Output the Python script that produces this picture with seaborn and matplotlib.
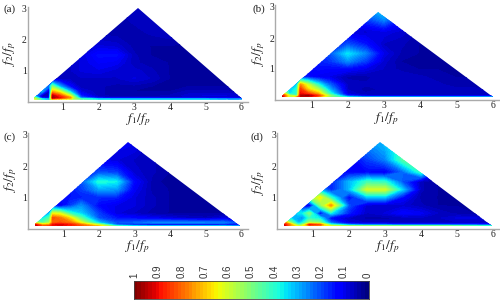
import numpy as np
import seaborn as sns
import matplotlib
matplotlib.use("Agg")
import matplotlib.pyplot as plt
from matplotlib.patches import Polygon

F1 = [0.2, 0.4, 0.6, 0.7, 0.9, 1.2, 1.5, 2.0, 2.5, 3.0, 3.5, 4.0, 4.5, 5.0, 5.5, 6.0]
F2 = [0.09, 0.14, 0.2, 0.35, 0.5, 0.75, 1.0, 1.25, 1.5, 1.8, 2.2, 2.6, 3.0]

VALS_A = [
    [.62, .40, .30, .72, .68, .62, .45, .36, .34, .34, .34, .34, .34, .34, .30, .28],
    [.50, .08, .08, .97, .90, .75, .22, .08, .06, .06, .06, .06, .06, .06, .06, .05],
    [.30, .06, .05, .95, .85, .62, .15, .05, .04, .04, .04, .05, .07, .08, .08, .07],
    [.20, .30, .05, .70, .60, .30, .08, .05, .04, .03, .03, .03, .05, .05, .05, .04],
    [.08, .30, .22, .50, .30, .12, .05, .05, .04, .04, .03, .03, .03, .03, .03, .03],
    [.05, .07, .06, .06, .05, .05, .06, .06, .06, .08, .06, .03, .03, .03, .03, .03],
    [.05, .05, .05, .05, .05, .06, .08, .09, .07, .07, .05, .03, .03, .03, .03, .03],
    [.05, .05, .05, .05, .06, .06, .08, .11, .10, .05, .04, .03, .03, .03, .03, .03],
    [.05, .05, .05, .05, .06, .06, .08, .13, .13, .05, .03, .03, .03, .03, .03, .03],
    [.05, .05, .05, .05, .05, .05, .06, .08, .07, .04, .03, .03, .03, .03, .03, .03],
    [.04, .04, .04, .04, .04, .04, .04, .04, .04, .04, .05, .06, .04, .03, .03, .03],
    [.04, .04, .04, .04, .04, .04, .04, .04, .04, .05, .06, .04, .03, .03, .03, .03],
    [.04, .04, .04, .04, .04, .04, .04, .04, .04, .06, .05, .03, .03, .03, .03, .03],
]
VALS_B = [
    [.95, .55, .75, .90, .85, .68, .52, .36, .30, .30, .30, .30, .30, .30, .30, .30],
    [.90, .60, .45, .95, .98, .85, .55, .15, .07, .06, .06, .06, .06, .06, .06, .06],
    [.80, .35, .40, .90, .85, .72, .42, .08, .05, .05, .06, .06, .06, .06, .06, .06],
    [.50, .30, .40, .85, .68, .55, .30, .06, .04, .05, .06, .06, .05, .05, .05, .04],
    [.20, .25, .32, .75, .60, .38, .22, .06, .05, .06, .06, .05, .05, .04, .04, .03],
    [.10, .12, .11, .15, .13, .10, .09, .04, .04, .06, .06, .05, .04, .03, .03, .03],
    [.10, .10, .10, .11, .12, .13, .12, .12, .09, .06, .04, .03, .03, .03, .02, .02],
    [.10, .10, .10, .11, .13, .15, .17, .26, .18, .07, .03, .03, .02, .02, .02, .02],
    [.10, .10, .10, .11, .13, .16, .20, .35, .25, .09, .04, .03, .02, .02, .02, .02],
    [.10, .10, .10, .11, .11, .11, .12, .20, .14, .06, .05, .03, .02, .02, .02, .02],
    [.10, .10, .10, .09, .09, .09, .08, .08, .07, .09, .07, .04, .03, .02, .02, .02],
    [.12, .12, .12, .12, .12, .12, .12, .12, .18, .26, .14, .06, .03, .02, .02, .02],
    [.12, .12, .12, .12, .12, .12, .12, .12, .28, .36, .20, .06, .03, .02, .02, .02],
]
VALS_C = [
    [.95, .82, .85, .90, .90, .88, .82, .70, .42, .36, .33, .33, .33, .33, .33, .28],
    [.90, .72, .72, .90, .92, .88, .78, .55, .20, .12, .08, .08, .08, .08, .10, .10],
    [.60, .45, .55, .80, .82, .78, .62, .32, .20, .22, .25, .26, .26, .25, .25, .18],
    [.30, .35, .45, .82, .78, .66, .45, .20, .14, .12, .10, .08, .06, .05, .08, .06],
    [.15, .22, .30, .62, .60, .40, .33, .18, .08, .06, .04, .03, .03, .03, .03, .03],
    [.10, .10, .12, .15, .08, .18, .26, .12, .09, .08, .05, .03, .02, .02, .02, .02],
    [.10, .10, .10, .12, .13, .14, .15, .16, .15, .08, .05, .03, .02, .02, .02, .02],
    [.10, .10, .10, .12, .13, .14, .18, .28, .27, .10, .04, .03, .02, .02, .02, .02],
    [.10, .10, .10, .12, .13, .15, .20, .39, .36, .12, .04, .02, .02, .02, .02, .02],
    [.10, .10, .10, .10, .11, .12, .14, .20, .18, .07, .05, .03, .02, .02, .02, .02],
    [.10, .10, .10, .10, .10, .10, .10, .09, .08, .06, .05, .03, .02, .02, .02, .02],
    [.12, .12, .12, .12, .12, .12, .12, .11, .10, .09, .05, .03, .02, .02, .02, .02],
    [.12, .12, .12, .12, .12, .12, .12, .11, .11, .10, .05, .03, .02, .02, .02, .02],
]
VALS_D = [
    [.95, .72, .60, .62, .72, .70, .62, .56, .54, .54, .52, .52, .52, .50, .46, .42],
    [.90, .72, .40, .50, .88, .82, .40, .22, .18, .18, .16, .16, .16, .16, .16, .14],
    [.80, .50, .30, .35, .55, .50, .22, .08, .06, .06, .06, .06, .06, .06, .06, .06],
    [.35, .32, .28, .25, .40, .35, .12, .06, .04, .04, .05, .06, .06, .08, .08, .06],
    [.15, .25, .35, .35, .50, .10, .35, .15, .06, .08, .12, .10, .06, .04, .03, .03],
    [.10, .25, .30, .10, .07, .50, .75, .20, .07, .06, .07, .05, .03, .03, .03, .03],
    [.18, .25, .30, .35, .50, .65, .40, .12, .30, .30, .12, .04, .03, .03, .03, .03],
    [.20, .22, .25, .30, .40, .30, .15, .30, .60, .60, .32, .05, .03, .03, .03, .03],
    [.20, .22, .25, .28, .28, .20, .15, .30, .42, .40, .20, .05, .03, .03, .03, .03],
    [.20, .20, .20, .20, .20, .15, .14, .12, .12, .10, .22, .40, .10, .03, .03, .03],
    [.18, .18, .18, .18, .18, .16, .14, .10, .18, .25, .45, .50, .10, .03, .03, .03],
    [.20, .20, .20, .20, .20, .20, .20, .20, .24, .30, .42, .40, .12, .03, .03, .03],
    [.22, .22, .22, .22, .22, .22, .22, .24, .28, .30, .38, .35, .12, .03, .03, .03],
]

PANEL_NAMES = ["(a)", "(b)", "(c)", "(d)"]
XTICKS = [1, 2, 3, 4, 5, 6]
YTICKS = [1, 2, 3]
CBAR_LABELS = ["1", "0.9", "0.8", "0.7", "0.6", "0.5", "0.4", "0.3", "0.2", "0.1", "0"]

W, H = 500, 304

# pixel layout per panel: x0, y0 (axis origin), x scale, y scale, triangle corners in px
LAYOUT = [
    dict(x0=27.5, y0=102, sx=35.6, sy=31.2, tri=[(32, 99.5), (138, 8), (243, 99.5)], lab=(10, 9), xl=(138, 120), yl=(10, 54)),
    dict(x0=275, y0=100, sx=36.3, sy=31, tri=[(281, 97), (378, 12), (493, 97)], lab=(259, 9), xl=(386, 119), yl=(259, 54)),
    dict(x0=28, y0=229, sx=35.5, sy=31.5, tri=[(33, 226), (128, 142), (240, 226)], lab=(10, 137), xl=(137, 247), yl=(11, 180)),
    dict(x0=277, y0=229, sx=36, sy=31.5, tri=[(282, 226), (380, 142), (492, 226)], lab=(257, 137), xl=(387, 247), yl=(259, 183)),
]

sns.set_theme(style="ticks")
plt.rcParams["font.family"] = ["Liberation Serif", "DejaVu Serif"]
plt.rcParams["mathtext.fontset"] = "stix"

fig = plt.figure(figsize=(W / 100, H / 100), dpi=100, facecolor="white")


def draw_panel(vals, name, lay):
    width = 6.2 * lay["sx"]
    height = 3.05 * lay["sy"]
    ax = fig.add_axes([lay["x0"] / W, 1 - lay["y0"] / H, width / W, height / H])
    ax.set_xlim(0, 6.2)
    ax.set_ylim(0, 3.05)
    ax.set_facecolor("none")
    cs = ax.contourf(F1, F2, np.array(vals), levels=np.linspace(0, 1, 65), cmap="jet", vmin=0, vmax=1, extend="both")
    corners = [((px - lay["x0"]) / lay["sx"], (lay["y0"] - py) / lay["sy"]) for px, py in lay["tri"]]
    clip = Polygon(corners, closed=True, transform=ax.transData, fc="none", ec="none")
    ax.add_patch(clip)
    cs.set_clip_path(clip)
    ax.set_xticks(XTICKS)
    ax.set_yticks(YTICKS)
    ax.tick_params(length=0, labelsize=7, pad=0.5, colors="#222222")
    sns.despine(ax=ax)
    ax.spines["left"].set_color("#aaaaaa")
    ax.spines["bottom"].set_color("#aaaaaa")
    ax.spines["left"].set_linewidth(1.0)
    ax.spines["bottom"].set_linewidth(1.0)
    fig.text(lay["lab"][0] / W, 1 - lay["lab"][1] / H, name, fontsize=8, ha="center", va="center", color="#222222")
    fig.text(lay["xl"][0] / W, 1 - lay["xl"][1] / H, r"$f_1/f_p$", fontsize=9.5, ha="center", va="center", color="#222222")
    fig.text(lay["yl"][0] / W, 1 - lay["yl"][1] / H, r"$f_2/f_p$", fontsize=9.5, ha="center", va="center", rotation=90, color="#222222")


for vals, name, lay in zip([VALS_A, VALS_B, VALS_C, VALS_D], PANEL_NAMES, LAYOUT):
    draw_panel(vals, name, lay)

# colour bar runs from 1 on the left to 0 on the right
cax = fig.add_axes([133.5 / W, 1 - 299 / H, 235 / W, 18 / H])
strip = np.linspace(1, 0, 64).reshape(1, -1)
sns.heatmap(strip, ax=cax, cmap="jet", vmin=0, vmax=1, cbar=False, xticklabels=False, yticklabels=False)
for spine in cax.spines.values():
    spine.set_visible(True)
    spine.set_color("#444444")
    spine.set_linewidth(0.6)
for lab, pos in zip(CBAR_LABELS, np.linspace(0.005, 0.995, len(CBAR_LABELS))):
    cax.text(pos, 1.18, lab, transform=cax.transAxes, rotation=90, fontsize=7, ha="center", va="bottom", color="#333333", family="Liberation Sans")

fig.savefig("out.png", dpi=100)
